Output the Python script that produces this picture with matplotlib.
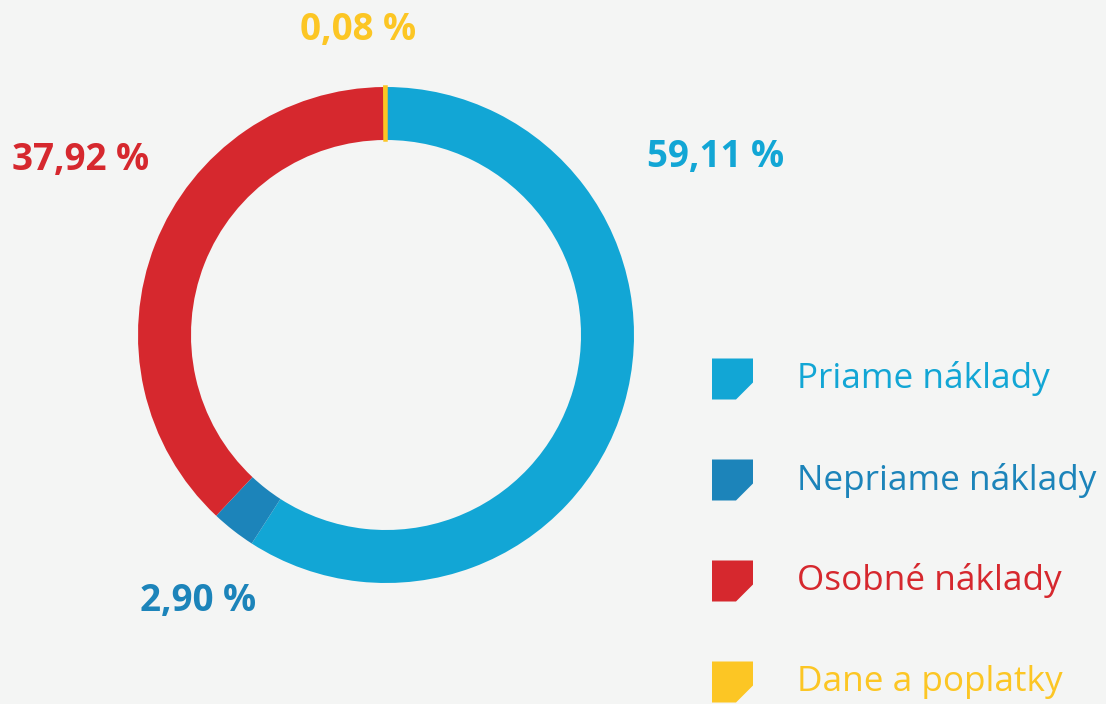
import matplotlib
matplotlib.use('Agg')
import matplotlib.pyplot as plt
from matplotlib.patches import Polygon

plt.rcParams['font.family'] = ['Open Sans', 'DejaVu Sans']

# podiel nákladov v %
categories = ['Priame náklady', 'Nepriame náklady', 'Osobné náklady', 'Dane a poplatky']
shares = [59.11, 2.90, 37.92, 0.08]
colors = ['#12A6D5', '#1C84BA', '#D6282E', '#FCC624']
# kde sú popisky percent (pixely v obrázku)
label_pos = [(716, 157), (198, 601), (81, 160), (358, 30)]

W, H = 1106, 704
bg = '#F4F5F4'

fig = plt.figure(figsize=(W / 100, H / 100), dpi=100, facecolor=bg)

# kruh - stred (386, 335), polomer 248 px
cx, cy, r = 386, 335, 248
ax = fig.add_axes([(cx - r) / W, (H - cy - r) / H, 2 * r / W, 2 * r / H])
ax.set_facecolor(bg)
wedges, _ = ax.pie(shares, colors=colors, startangle=90, counterclock=False, radius=1,
                   wedgeprops=dict(width=53 / 248, linewidth=0))
# malý výsek je v origináli trochu hrubší
wedges[3].set_edgecolor(colors[3])
wedges[3].set_linewidth(2.5)
ax.set_xlim(-1, 1)
ax.set_ylim(-1, 1)
ax.set_aspect('equal')
ax.axis('off')

# percentá
for v, c, (px, py) in zip(shares, colors, label_pos):
    txt = f'{v:.2f} %'.replace('.', ',')
    fig.text(px / W, 1 - py / H, txt, color=c, fontsize=26.5, fontweight='bold',
             ha='center', va='center')

# legenda so zrezaným rohom
size, cut = 41, 17
for i, (name, c) in enumerate(zip(categories, colors)):
    yc = 379 + i * 101
    x0, y0 = 712, yc - size / 2
    pts = [(x0, y0), (x0 + size, y0), (x0 + size, y0 + size - cut),
           (x0 + size - cut, y0 + size), (x0, y0 + size)]
    pts = [(x / W, 1 - y / H) for x, y in pts]
    fig.patches.append(Polygon(pts, closed=True, facecolor=c, edgecolor='none',
                               transform=fig.transFigure))
    fig.text(797 / W, 1 - yc / H, name, color=c, fontsize=25.3,
             ha='left', va='center')

fig.savefig('out.png', dpi=100, facecolor=bg)
